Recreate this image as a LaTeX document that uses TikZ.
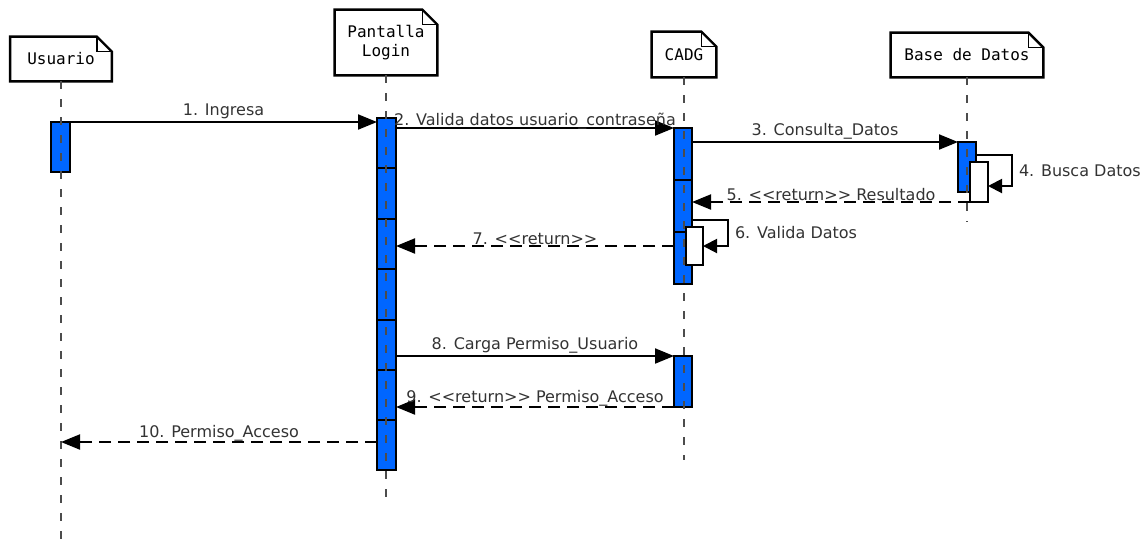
\documentclass[tikz,border=0pt]{standalone}
\usepackage{fontspec}
\setmainfont{DejaVu Sans}
\setmonofont{DejaVu Sans Mono}
\usetikzlibrary{
  arrows.meta,
  fit
}
\definecolor{actblue}{RGB}{0,102,255}
\definecolor{lbltext}{RGB}{51,51,51}

\begin{document}
\begin{tikzpicture}[
  x = 0.5pt, y = -0.5pt,
  % ── Participant (note box) ──────────────────────────────
  actor/.style={
    fill       = white,
    inner sep  = 0pt,
    align      = center,
    font       = \fontsize{8}{9.5}\selectfont\ttfamily
  },
  notebox/.style={
    draw       = black,
    line width = 1.2pt,
    line join  = miter
  },
  fold/.style={
    draw       = black,
    line width = 0.6pt
  },
  % ── Lifeline ────────────────────────────────────────────
  life/.style={
    draw         = black!70,
    line width   = 0.7pt,
    dash pattern = on 4pt off 5pt
  },
  % ── Activation bars ─────────────────────────────────────
  act/.style={
    rectangle,
    draw       = black,
    line width = 1pt,
    fill       = actblue,
    inner sep  = 0pt,
    outer sep  = 0pt
  },
  subact/.style={
    act,
    fill = white
  },
  % ── Messages ────────────────────────────────────────────
  msg/.style={
    -{Triangle[length=9.5pt, width=7.5pt]},
    line width = 1pt
  },
  selfmsg/.style={
    msg,
    -{Triangle[length=7pt, width=7pt]}
  },
  ret/.style={
    msg,
    dash pattern = on 6pt off 3.5pt
  },
  lbl/.style={
    font      = \fontsize{8}{9.5}\selectfont,
    text      = lbltext,
    inner sep = 1pt
  }
]
\useasboundingbox (0,0) rectangle (1146,548);

% ── Participants ───────────────────────────────────────────
\node[actor, minimum width=50.5pt, minimum height=22pt]   (usr) at (61,59)    {Usuario};
\node[actor, minimum width=51pt,   minimum height=32.5pt] (pan) at (386,42.5) {Pantalla\\Login};
\node[actor, minimum width=32pt,   minimum height=22.5pt] (cad) at (684,54.5) {CADG};
\node[actor, minimum width=76pt,   minimum height=22pt]   (bd)  at (967,55)   {Base de Datos};

\foreach \n in {usr, pan, cad, bd}
  \draw[notebox] (\n.south west) -- (\n.north west) -- ([xshift=-7.5pt]\n.north east)
    -- ([yshift=-7.5pt]\n.north east) -- (\n.south east) -- cycle
    ([xshift=-7.5pt]\n.north east) edge[fold, to path={|- (\tikztotarget)}] ([yshift=-7.5pt]\n.north east);

% ── Activation bars ────────────────────────────────────────
\node[act, fit={(51,122)(70,172)}]   (ub)  {};
\node[act, fit={(377,118)(396,470)}] (pb)  {};
\node[act, fit={(674,128)(692,284)}] (cb1) {};
\node[act, fit={(674,356)(692,407)}] (cb2) {};
\node[act, fit={(958,142)(976,192)}] (bb)  {};

\foreach \k in {1,...,6}
  \draw[line width=1pt] ([yshift={-25.2pt*\k}]pb.north west) -- ([yshift={-25.2pt*\k}]pb.north east);
\foreach \d in {26, 52}
  \draw[line width=1pt] ([yshift=-\d pt]cb1.north west) -- ([yshift=-\d pt]cb1.north east);

% ── Lifelines ──────────────────────────────────────────────
\draw[life] (usr.south) -- ++(0,467);
\draw[life] (pan.south) -- ++(0,425);
\draw[life] (cad.south) -- ++(0,383);
\draw[life] (bd.south)  -- ++(0,145);

\node[subact, fit={(686,227)(703,265)}] (cw) {};
\node[subact, fit={(970,162)(988,202)}] (bw) {};

% ── Messages ───────────────────────────────────────────────
\coordinate (v6)  at ([yshift=3.5pt]cw.north);
\coordinate (v10) at ([yshift=14pt]pb.south west);

\draw[msg] (ub.north east) -- node[lbl, above] {1. Ingresa} (pb.west |- ub.north east);
\draw[msg] (pb.east |- cb1.north) -- node[lbl, above=-2pt] {2. Valida datos usuario\_contraseña} (cb1.north west);
\draw[msg] (cb1.east |- bb.north) -- node[lbl, above] {3. Consulta\_Datos} (bb.north west);
\draw[selfmsg] ([yshift=-6.5pt]bb.north east) -- ++(18pt,0)
  |- node[lbl, pos=0.25, right=2pt] {4. Busca Datos} ([yshift=-2pt]bw.east);
\draw[ret] (bw.south west) -- node[lbl, above=-1pt] {5. <{}<return>{}> Resultado} (cb1.east |- bw.south west);
\draw[selfmsg] (cb1.east |- v6) -- ++(18pt,0)
  |- node[lbl, pos=0.25, right=2pt] {6. Valida Datos} (cw.east);
\draw[ret] (cb1.west |- cw.east) -- node[lbl, above=-1pt] {7. <{}<return>{}>} (pb.east |- cw.east);
\draw[msg] (pb.east |- cb2.north) -- node[lbl, above] {8. Carga Permiso\_Usuario} (cb2.north west);
\draw[ret] (cb2.south west) -- node[lbl, above=-1pt] {9. <{}<return>{}> Permiso\_Acceso} (pb.east |- cb2.south west);
\draw[ret] (v10) -- node[lbl, above=-1pt] {10. Permiso\_Acceso} (usr |- v10);

\end{tikzpicture}
\end{document}
